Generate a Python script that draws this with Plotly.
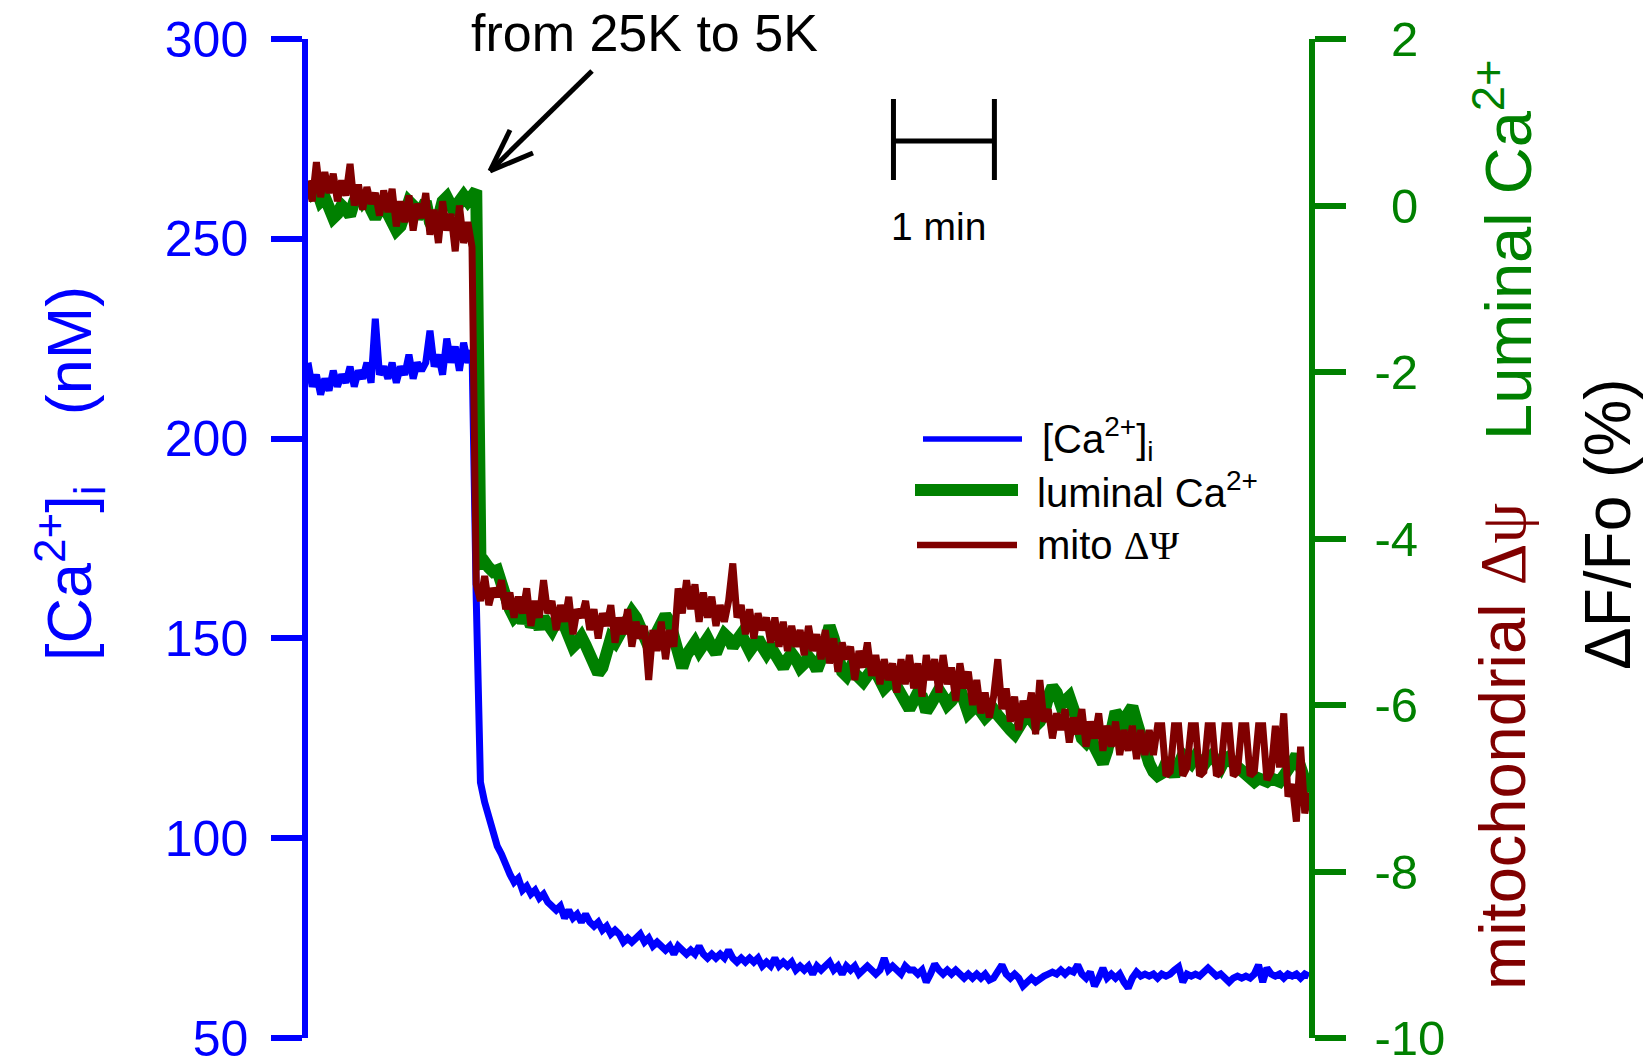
import numpy as np
import plotly.graph_objects as go

# ---- data -----------------------------------------------------------------
# time in seconds, one sample every 2.5 s (0 .. 595 s)
time_s = np.arange(0, 595.1, 2.5)

# [Ca2+]i, nM (left axis)
ca_i_nM = [
    219, 213, 216, 211, 215, 212, 217, 213, 216, 214,
    218, 213, 217, 215, 219, 214, 230, 216, 218, 215,
    219, 214, 218, 216, 221, 215, 219, 217, 219, 227,
    218, 221, 216, 225, 219, 223, 217, 224, 219, 222,
    160, 114, 109, 105, 102, 98, 96, 93, 91, 89,
    90, 87, 88, 86, 87, 85, 86, 84, 83, 82,
    83, 80, 82, 80, 81, 79, 81, 79, 78, 79,
    77, 78, 76, 77, 76, 74, 75, 74, 75, 76,
    74, 75, 73, 74, 73, 72, 73, 71, 73, 72,
    71, 72, 71, 73, 71, 70, 71, 70, 71, 70,
    72, 70, 69, 70, 69, 70, 69, 70, 68, 69,
    68, 70, 68, 69, 68, 69, 67, 68, 67, 68,
    66, 68, 67, 68, 69, 67, 68, 66, 68, 67,
    68, 66, 67, 68, 67, 66, 67, 70, 67, 68,
    67, 66, 68, 67, 67, 66, 67, 64, 66, 68.5,
    67, 66, 67, 66, 67, 66, 65, 66, 65, 66,
    65, 66, 64.5, 65, 67, 68.3, 66, 65, 66, 65,
    63, 64, 65, 64, 65, 65.5, 66, 66.5, 66, 67,
    66, 67, 66.5, 68.3, 66, 65, 66.5, 63, 65, 67.5,
    65, 66, 65, 66, 64, 62.5, 65, 66.5, 65.5, 66,
    65.5, 66, 65, 66, 65.5, 66, 67, 67.8, 64, 66,
    65.5, 66, 65.5, 66.5, 67.5, 66.5, 65.5, 66, 65, 64,
    65, 65.5, 65, 65.5, 65, 66, 68.3, 64, 67.5, 66,
    65.5, 66, 65, 66, 65.5, 66, 65, 66, 65.5,
]

# luminal Ca2+, dF/Fo % (right axis)
luminal_ca = [
    0.25, 0.15, 0.20, 0.05, 0.10, -0.05, -0.15, -0.10, 0.00, -0.05,
    -0.12, 0.05, 0.15, 0.05, 0.12, -0.05, -0.15, -0.05, 0.05, -0.10,
    -0.20, -0.30, -0.25, -0.05, 0.05, 0.00, -0.15, -0.05, 0.05, -0.20,
    -0.30, -0.15, 0.05, 0.10, 0.00, -0.10, 0.05, 0.12, 0.05, 0.15,
    0.18, -4.30, -4.28, -4.35, -4.40, -4.38, -4.50, -4.70, -4.85, -4.95,
    -4.90, -5.00, -4.92, -5.05, -4.98, -5.08, -4.95, -5.02, -5.10, -5.00,
    -4.92, -5.05, -5.20, -5.30, -5.25, -5.18, -5.28, -5.40, -5.55, -5.62,
    -5.55, -5.35, -5.20, -5.25, -5.15, -5.05, -4.95, -4.88, -4.95, -5.10,
    -5.20, -5.30, -5.22, -5.10, -4.98, -4.92, -5.00, -5.20, -5.45, -5.55,
    -5.40, -5.30, -5.25, -5.35, -5.28, -5.20, -5.30, -5.38, -5.25, -5.15,
    -5.20, -5.30, -5.22, -5.15, -5.25, -5.35, -5.28, -5.20, -5.30, -5.38,
    -5.30, -5.40, -5.48, -5.55, -5.45, -5.38, -5.45, -5.55, -5.50, -5.42,
    -5.48, -5.58, -5.45, -5.20, -5.05, -5.20, -5.45, -5.60, -5.65, -5.55,
    -5.62, -5.70, -5.72, -5.65, -5.58, -5.60, -5.72, -5.80, -5.75, -5.68,
    -5.78, -5.85, -5.92, -6.05, -5.95, -5.85, -5.90, -6.08, -6.00, -5.90,
    -5.82, -5.90, -6.00, -5.95, -5.85, -5.80, -5.95, -6.10, -6.05, -5.98,
    -6.08, -6.15, -6.10, -6.05, -6.12, -6.20, -6.25, -6.30, -6.35, -6.28,
    -6.15, -6.10, -6.18, -6.25, -6.20, -6.10, -5.90, -5.78, -5.85, -6.00,
    -5.95, -5.90, -6.05, -6.25, -6.40, -6.45, -6.38, -6.50, -6.62, -6.70,
    -6.55, -6.30, -6.08, -6.15, -6.30, -6.10, -6.02, -6.20, -6.40, -6.55,
    -6.70, -6.80, -6.85, -6.82, -6.70, -6.75, -6.85, -6.72, -6.60, -6.65,
    -6.70, -6.62, -6.68, -6.72, -6.65, -6.60, -6.68, -6.75, -6.65, -6.62,
    -6.70, -6.75, -6.80, -6.85, -6.90, -6.92, -6.88, -6.90, -6.92, -6.88,
    -6.90, -6.92, -6.85, -6.80, -6.70, -6.60, -6.75, -6.95, -7.05,
]

# mitochondrial delta psi, dF/Fo % (right axis)
mito_psi = [
    0.30, 0.05, 0.52, 0.10, 0.40, 0.15, 0.38, 0.05, 0.30, 0.12,
    0.50, 0.00, 0.25, -0.05, 0.22, 0.02, 0.15, -0.12, 0.18, -0.08,
    0.20, -0.25, 0.05, -0.20, 0.12, -0.30, 0.02, -0.15, 0.15, -0.35,
    -0.05, -0.45, 0.05, -0.30, -0.10, -0.55, 0.00, -0.45, -0.20, -0.50,
    -4.55, -4.75, -4.45, -4.80, -4.60, -4.70, -4.50, -4.85, -4.65, -4.95,
    -4.70, -4.90, -4.60, -5.05, -4.75, -4.95, -4.50, -4.90, -4.75, -5.10,
    -4.80, -5.00, -4.70, -5.15, -4.85, -4.95, -4.75, -5.10, -4.85, -5.20,
    -4.90, -5.05, -4.80, -5.25, -4.95, -5.15, -4.85, -5.30, -5.00, -5.20,
    -5.05, -5.70, -5.10, -5.35, -5.00, -5.45, -5.10, -5.30, -4.60, -4.90,
    -4.50, -4.85, -4.55, -5.00, -4.65, -4.95, -4.70, -5.05, -4.80, -5.00,
    -4.75, -4.30, -4.95, -4.80, -5.15, -4.85, -5.20, -4.90, -5.10, -4.95,
    -5.25, -4.95, -5.30, -5.00, -5.35, -5.05, -5.30, -5.10, -5.40, -5.05,
    -5.35, -5.15, -5.45, -5.10, -5.50, -5.20, -5.60, -5.25, -5.45, -5.30,
    -5.70, -5.35, -5.55, -5.25, -5.65, -5.40, -5.75, -5.45, -5.70, -5.50,
    -5.85, -5.45, -5.75, -5.40, -5.80, -5.50, -5.90, -5.40, -5.70, -5.45,
    -5.85, -5.40, -5.75, -5.55, -5.95, -5.50, -5.80, -5.60, -6.00, -5.70,
    -6.10, -5.85, -6.15, -5.90, -5.45, -6.05, -5.80, -6.20, -5.90, -6.30,
    -5.95, -6.15, -5.85, -6.35, -5.70, -6.20, -6.05, -6.40, -6.10, -6.30,
    -6.05, -6.45, -6.15, -6.35, -6.05, -6.50, -6.20, -6.40, -6.10, -6.55,
    -6.25, -6.50, -6.20, -6.60, -6.30, -6.55, -6.25, -6.65, -6.30, -6.60,
    -6.30, -6.60, -6.25, -6.25, -6.85, -6.80, -6.25, -6.25, -6.85, -6.75,
    -6.25, -6.25, -6.85, -6.80, -6.25, -6.25, -6.85, -6.80, -6.25, -6.25,
    -6.85, -6.80, -6.25, -6.25, -6.85, -6.80, -6.25, -6.25, -6.90, -6.80,
    -6.25, -6.75, -6.10, -7.10, -6.95, -7.40, -6.50, -7.30, -7.05,
]

left_ticks = [50, 100, 150, 200, 250, 300]
right_ticks = [-10, -8, -6, -4, -2, 0, 2]
# positive labels keep an empty slot for the sign, as in the original
ghost = "<span style='color:rgba(0,0,0,0)'>-</span>"
right_ticktext = ["-10", "-8", "-6", "-4", "-2", ghost + "0", ghost + "2"]
scale_bar_start = 348   # s
scale_bar_len = 60      # 1 min

BLUE = "#0000FF"
GREEN = "#008000"
MAROON = "#800000"
FONT = "Liberation Sans, Arial, sans-serif"
SERIF = "Liberation Serif"

# plot area in page pixels, used to place the decorations
L, R, T, B = 308, 1309, 39, 1038


def px(x):
    return (x - L) / (R - L)


def py(y):
    return (B - y) / (B - T)


fig = go.Figure()
fig.add_trace(go.Scatter(x=time_s, y=ca_i_nM, mode="lines", name="[Ca2+]i",
                         line=dict(color=BLUE, width=7), yaxis="y"))
fig.add_trace(go.Scatter(x=time_s, y=luminal_ca, mode="lines", name="luminal Ca2+",
                         line=dict(color=GREEN, width=12), yaxis="y2"))
fig.add_trace(go.Scatter(x=time_s, y=mito_psi, mode="lines", name="mito dPsi",
                         line=dict(color=MAROON, width=7), yaxis="y2"))

axis_common = dict(ticks="outside", ticklen=31, tickwidth=5.5, showline=True, linewidth=5.5,
                   showgrid=False, zeroline=False, automargin=False,
                   ticklabeloverflow="allow")

fig.update_layout(
    width=1650, height=1062,
    margin=dict(l=L, r=1650 - R, t=T, b=1062 - B, autoexpand=False),
    paper_bgcolor="white", plot_bgcolor="white",
    showlegend=False,
    font=dict(family=FONT, color="black"),
    xaxis=dict(range=[0, 595], visible=False),
    yaxis=dict(range=[50, 300], tickvals=left_ticks, tickcolor=BLUE, linecolor=BLUE,
               tickfont=dict(size=50, color=BLUE), ticklabelstandoff=13, **axis_common),
    yaxis2=dict(range=[-10, 2], overlaying="y", side="right", anchor="x",
                tickvals=right_ticks, ticktext=right_ticktext, tickcolor=GREEN,
                linecolor=GREEN, tickfont=dict(size=49, color=GREEN),
                ticklabelstandoff=19, **axis_common),
)

shapes = []
# scale bar (1 min)
for xv in (scale_bar_start, scale_bar_start + scale_bar_len):
    shapes.append(dict(type="line", xref="x", yref="paper", x0=xv, x1=xv,
                       y0=py(99), y1=py(180), line=dict(color="black", width=5)))
shapes.append(dict(type="line", xref="x", yref="paper", x0=scale_bar_start,
                   x1=scale_bar_start + scale_bar_len, y0=py(141), y1=py(141),
                   line=dict(color="black", width=5)))
# arrow
for (xa, ya) in [(592, 71), (510, 130), (533, 153)]:
    shapes.append(dict(type="line", xref="paper", yref="paper", x0=px(xa), y0=py(ya),
                       x1=px(490), y1=py(171), line=dict(color="black", width=5)))
# legend keys
for (x0, x1, yy, col, w) in [(923, 1022, 439, BLUE, 5.5), (915, 1018, 490, GREEN, 12),
                             (917, 1017, 545, MAROON, 6.5)]:
    shapes.append(dict(type="line", xref="paper", yref="paper", x0=px(x0), x1=px(x1),
                       y0=py(yy), y1=py(yy), line=dict(color=col, width=w)))
fig.update_layout(shapes=shapes)

anns = [
    dict(text="from 25K to 5K", x=px(644), y=py(33), size=52, color="black"),
    dict(text="1 min", x=scale_bar_start + scale_bar_len / 2 - 3, xref="x", y=py(227),
         size=39, color="black"),
    dict(text="[Ca<sup>2+</sup>]<sub>i</sub>&nbsp;&nbsp;&nbsp;&nbsp;(nM)", x=px(70),
         y=py(474), size=63, color=BLUE, angle=-90),
    dict(text="Luminal Ca<sup>2+</sup>", x=px(1504), y=py(250), size=65, color=GREEN,
         angle=-90),
    dict(text="mitochondrial <span style='font-family:%s'>\u0394\u03c8</span>" % SERIF,
         x=px(1502), y=py(747), size=65, color=MAROON, angle=-90),
    dict(text="\u0394F/Fo (%)", x=px(1608), y=py(524), size=64, color="black", angle=-90),
    dict(text="[Ca<sup>2+</sup>]<sub>i</sub>", x=px(1040), y=py(439), size=40,
         color="black", xanchor="left"),
    dict(text="luminal Ca<sup>2+</sup>", x=px(1035), y=py(490), size=40, color="black",
         xanchor="left"),
    dict(text="mito <span style='font-family:%s'>\u0394\u03a8</span>" % SERIF, x=px(1035),
         y=py(545), size=40, color="black", xanchor="left"),
]
for a in anns:
    fig.add_annotation(text=a["text"], x=a["x"], y=a["y"], xref=a.get("xref", "paper"),
                       yref="paper", showarrow=False, textangle=a.get("angle", 0),
                       xanchor=a.get("xanchor", "center"), yanchor="middle",
                       font=dict(family=FONT, size=a["size"], color=a["color"]))

# the page's default body margin would shift the figure by 8 px
fig.write_html("out.html", config={"displayModeBar": False},
               post_script="document.body.style.margin='0px';")
